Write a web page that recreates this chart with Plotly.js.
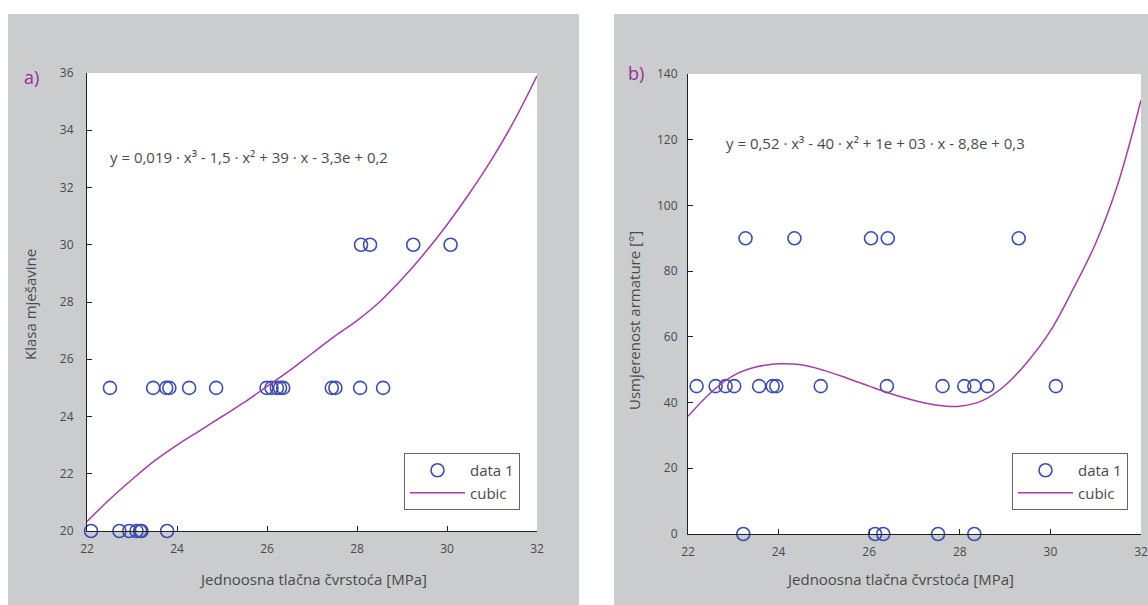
<!DOCTYPE html>
<html>
<head>
<meta charset="utf-8">
<script src="https://cdn.plot.ly/plotly-3.0.1.min.js"></script>
<style>html,body{margin:0;padding:0;background:#fff;}#chart{width:1148px;height:605px;}</style>
</head>
<body>
<div id="chart"></div>
<script>
// ---- Data ----
// Panel a) : Klasa mješavine vs. strength
const aX20 = [22.09, 22.72, 22.94, 23.10, 23.18, 23.21, 23.78];
const aX25 = [22.51, 23.47, 23.76, 23.83, 24.27, 24.87, 25.99, 26.10, 26.22, 26.29, 26.36, 27.44, 27.52, 28.07, 28.58];
const aX30 = [28.09, 28.29, 29.25, 30.08];
const aClassLevels = [20, 25, 30];
const aCurveX = [22, 22.5, 23, 23.5, 24, 24.5, 25, 25.5, 26, 26.5, 27, 27.5, 28, 28.5, 29, 29.5, 30, 30.5, 31, 31.5, 32];
const aCurveY = [20.33, 21.1, 21.8, 22.45, 23.0, 23.5, 24.0, 24.5, 25.05, 25.6, 26.2, 26.8, 27.35, 28.0, 28.8, 29.7, 30.7, 31.8, 33.0, 34.35, 35.9];

// Panel b) : Usmjerenost armature vs. strength
const bX0 = [23.22, 26.13, 26.31, 27.52, 28.32];
const bX45 = [22.19, 22.61, 22.83, 23.02, 23.57, 23.87, 23.95, 24.93, 26.39, 27.62, 28.10, 28.32, 28.61, 30.12];
const bX90 = [23.27, 24.35, 26.04, 26.41, 29.30];
const bAngleLevels = [0, 45, 90];
const bCurveX = [22, 22.5, 23, 23.5, 24, 24.5, 25, 25.5, 26, 26.5, 27, 27.5, 28, 28.5, 29, 29.5, 30, 30.5, 31, 31.5, 32];
const bCurveY = [35.8, 43.0, 48.2, 50.8, 51.8, 51.5, 49.8, 47.5, 45.0, 42.6, 40.6, 39.2, 38.9, 40.6, 45.2, 52.5, 61.8, 74.5, 88.5, 107, 132];

const aTicksY = [20, 22, 24, 26, 28, 30, 32, 34, 36];
const bTicksY = [0, 20, 40, 60, 80, 100, 120, 140];
const ticksX = [22, 24, 26, 28, 30, 32];

const aEquation = 'y = 0,019 · x³ - 1,5 · x² + 39 · x - 3,3e + 0,2';
const bEquation = 'y = 0,52 · x³ - 40 · x² + 1e + 03 · x - 8,8e + 0,3';
const xTitle = 'Jednoosna tlačna čvrstoća [MPa]';
const aYTitle = 'Klasa mješavine';
const bYTitle = 'Usmjerenost armature [°]';

// ---- Build ----
const W = 1148, H = 605;
const px = x => x / W;
const py = y => 1 - y / H;

function flat(groups, levels) {
  const xs = [], ys = [];
  groups.forEach((g, i) => g.forEach(v => { xs.push(v); ys.push(levels[i]); }));
  return {xs, ys};
}
const aPts = flat([aX20, aX25, aX30], aClassLevels);
const bPts = flat([bX0, bX45, bX90], bAngleLevels);

const FONT = 'Open Sans, Noto Sans, sans-serif';
const TXT = '#4a4a4a';
const BLUE = '#3b4db3';
const PURPLE = '#a43da6';

const markerStyle = {symbol: 'circle-open', size: 13, color: BLUE, line: {width: 1.6, color: BLUE}};

const traces = [
  {x: aPts.xs, y: aPts.ys, xaxis: 'x', yaxis: 'y', mode: 'markers', name: 'data 1',
   marker: markerStyle, cliponaxis: false, legend: 'legend'},
  {x: aCurveX, y: aCurveY, xaxis: 'x', yaxis: 'y', mode: 'lines', name: 'cubic',
   line: {color: PURPLE, width: 1.5, shape: 'spline'}, legend: 'legend'},
  {x: bPts.xs, y: bPts.ys, xaxis: 'x2', yaxis: 'y2', mode: 'markers', name: 'data 1',
   marker: markerStyle, cliponaxis: false, legend: 'legend2'},
  {x: bCurveX, y: bCurveY, xaxis: 'x2', yaxis: 'y2', mode: 'lines', name: 'cubic',
   line: {color: PURPLE, width: 1.5, shape: 'spline'}, legend: 'legend2'}
];

const axisBase = {
  showgrid: false, zeroline: false, showline: true, linecolor: '#222', linewidth: 1,
  ticks: 'inside', ticklen: 5, tickcolor: '#222', tickwidth: 1, mirror: false,
  tickfont: {family: FONT, size: 12, color: TXT}, fixedrange: true
};

const legendBase = {
  bgcolor: '#ffffff', bordercolor: '#666', borderwidth: 1,
  font: {family: FONT, size: 15, color: TXT}, xanchor: 'right', yanchor: 'bottom',
  itemwidth: 55, tracegroupgap: 0
};

function ann(text, x, y, size, color, extra) {
  return Object.assign({text, xref: 'paper', yref: 'paper', x: px(x), y: py(y),
    xanchor: 'center', yanchor: 'middle', showarrow: false,
    font: {family: FONT, size, color}}, extra || {});
}

const layout = {
  width: W, height: H,
  margin: {l: 0, r: 0, t: 0, b: 0},
  paper_bgcolor: '#ffffff', plot_bgcolor: '#ffffff',
  showlegend: true,
  xaxis: Object.assign({}, axisBase, {domain: [px(87), px(537)], range: [22, 32], tickvals: ticksX, anchor: 'y', ticklabelstandoff: 7}),
  yaxis: Object.assign({}, axisBase, {domain: [py(531), py(73)], range: [20, 36], tickvals: aTicksY, anchor: 'x', ticklabelstandoff: 10}),
  xaxis2: Object.assign({}, axisBase, {domain: [px(688), px(1141)], range: [22, 32], tickvals: ticksX, anchor: 'y2', ticklabelstandoff: 7}),
  yaxis2: Object.assign({}, axisBase, {domain: [py(534), py(74)], range: [0, 140], tickvals: bTicksY, anchor: 'x2', ticklabelstandoff: 7}),
  legend: Object.assign({}, legendBase, {x: px(520), y: py(510)}),
  legend2: Object.assign({}, legendBase, {x: px(1128), y: py(510)}),
  shapes: [
    {type: 'rect', xref: 'paper', yref: 'paper', x0: px(8), x1: px(579), y0: 0, y1: py(14), fillcolor: '#cbccce', line: {width: 0}, layer: 'below'},
    {type: 'rect', xref: 'paper', yref: 'paper', x0: px(614), x1: 1, y0: 0, y1: py(14), fillcolor: '#cbccce', line: {width: 0}, layer: 'below'},
    {type: 'rect', xref: 'paper', yref: 'paper', x0: px(87), x1: px(537), y0: py(531), y1: py(73), fillcolor: '#ffffff', line: {width: 0}, layer: 'below'},
    {type: 'rect', xref: 'paper', yref: 'paper', x0: px(688), x1: px(1141), y0: py(534), y1: py(74), fillcolor: '#ffffff', line: {width: 0}, layer: 'below'}
  ],
  annotations: [
    ann('a)', 31, 77, 18, '#9a2f92'),
    ann('b)', 636, 73, 18, '#9a2f92'),
    ann(aEquation, 108, 157, 15, TXT, {xanchor: 'left'}),
    ann(bEquation, 724, 143, 15, TXT, {xanchor: 'left'}),
    ann(xTitle, 313, 579, 15, TXT),
    ann(xTitle, 900, 579, 15, TXT),
    ann(aYTitle, 30, 305, 15, TXT, {textangle: -90}),
    ann(bYTitle, 634, 321, 15, TXT, {textangle: -90})
  ]
};

Plotly.newPlot('chart', traces, layout, {displayModeBar: false, staticPlot: true});
</script>
</body>
</html>
